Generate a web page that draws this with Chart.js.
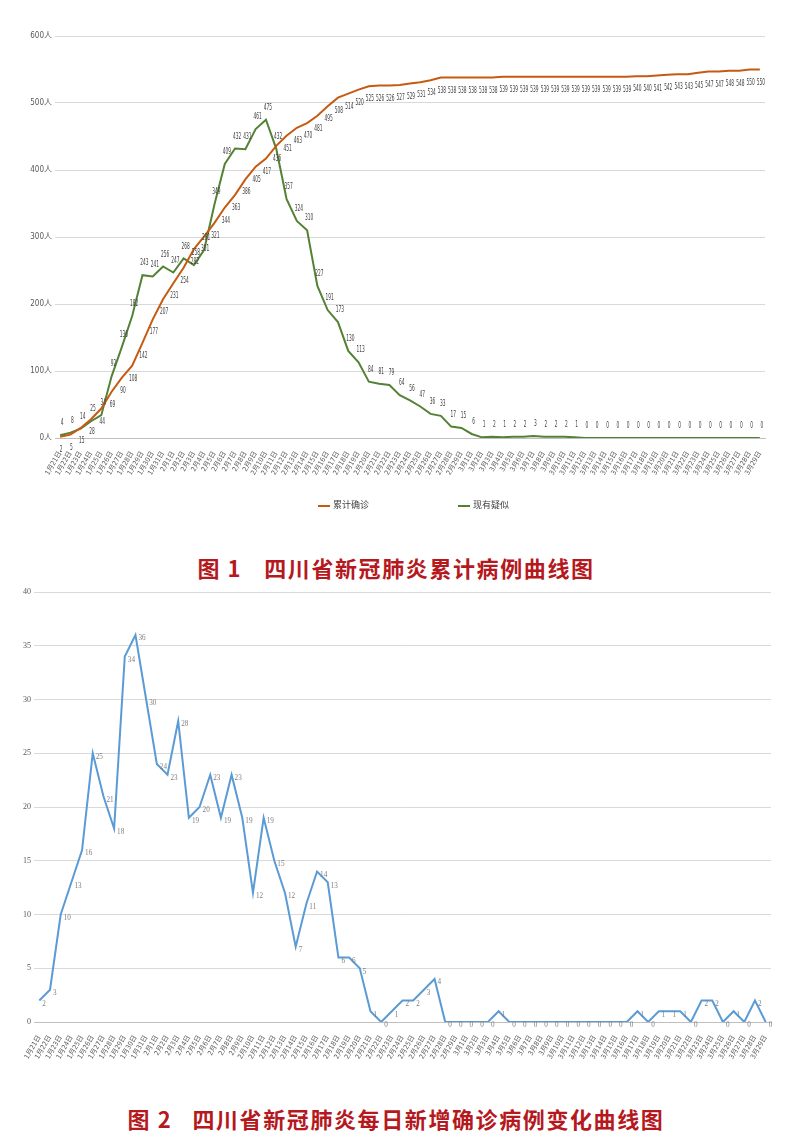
<!DOCTYPE html>
<html>
<head>
<meta charset="utf-8">
<script src="https://cdn.jsdelivr.net/npm/chart.js@4.4.1/dist/chart.umd.min.js"></script>
<style>
  body { margin: 0; background: #fff; }
  #page { position: relative; width: 800px; height: 1147px; overflow: hidden; }
  .box { position: absolute; left: 0; width: 800px; }
  .title { position: absolute; left: 0; width: 792px; text-align: center; line-height: 30px;
    font-family: "Noto Sans CJK SC", sans-serif; font-weight: 700; font-size: 22px;
    letter-spacing: 1.6px; color: #b5191e; }
  .legend { position: absolute; top: 498px; font: 9px "Noto Sans CJK SC", sans-serif; color: #404040; line-height: 14px; }
  .legend i { display: inline-block; width: 12px; height: 2px; vertical-align: middle; margin-right: 3px; }
</style>
</head>
<body>
<div id="page">
  <div class="box" style="top:0;height:500px"><canvas id="c1"></canvas></div>
  <div class="legend" id="lg1" style="left:318px"></div>
  <div class="legend" id="lg2" style="left:458px"></div>
  <div class="title" style="top:552px">图 1<span style="margin-left:22px">四川省新冠肺炎累计病例曲线图</span></div>
  <div class="box" style="top:575px;height:505px"><canvas id="c2"></canvas></div>
  <div class="title" style="top:1103px">图 2<span style="margin-left:20px">四川省新冠肺炎每日新增确诊病例变化曲线图</span></div>
</div>
<script>
const dates = [
  "1月21日","1月22日","1月23日","1月24日","1月25日","1月26日","1月27日","1月28日","1月29日","1月30日","1月31日",
  "2月1日","2月2日","2月3日","2月4日","2月5日","2月6日","2月7日","2月8日","2月9日","2月10日",
  "2月11日","2月12日","2月13日","2月14日","2月15日","2月16日","2月17日","2月18日","2月19日","2月20日",
  "2月21日","2月22日","2月23日","2月24日","2月25日","2月26日","2月27日","2月28日","2月29日",
  "3月1日","3月2日","3月3日","3月4日","3月5日","3月6日","3月7日","3月8日","3月9日","3月10日",
  "3月11日","3月12日","3月13日","3月14日","3月15日","3月16日","3月17日","3月18日","3月19日","3月20日",
  "3月21日","3月22日","3月23日","3月24日","3月25日","3月26日","3月27日","3月28日","3月29日"
];

const seriesNames = ["累计确诊", "现有疑似"];

// 累计确诊
const confirmed = [
  2, 5, 15, 28, 44, 69, 90, 108, 142, 177,
  207, 231, 254, 282, 301, 321, 344, 363, 386, 405,
  417, 436, 451, 463, 470, 481, 495, 508, 514, 520,
  525, 526, 526, 527, 529, 531, 534, 538, 538, 538,
  538, 538, 538, 539, 539, 539, 539, 539, 539, 539,
  539, 539, 539, 539, 539, 539, 540, 540, 541, 542,
  543, 543, 545, 547, 547, 548, 548, 550, 550
];

// 现有疑似
const suspected = [
  4, 8, 14, 25, 34, 92, 136, 182, 243, 241,
  256, 247, 268, 258, 281, 349, 409, 432, 431, 461,
  475, 432, 357, 324, 310, 227, 191, 173, 130, 113,
  84, 81, 79, 64, 56, 47, 36, 33, 17, 15,
  6, 1, 2, 1, 2, 2, 3, 2, 2, 2,
  1, 0, 0, 0, 0, 0, 0, 0, 0, 0,
  0, 0, 0, 0, 0, 0, 0, 0, 0
];

// 每日新增确诊
const dailyNew = [
  2, 3, 10, 13, 16, 25, 21, 18, 34, 36,
  30, 24, 23, 28, 19, 20, 23, 19, 23, 19,
  12, 19, 15, 12, 7, 11, 14, 13, 6, 6,
  5, 1, 0, 1, 2, 2, 3, 4, 0, 0,
  0, 0, 0, 1, 0, 0, 0, 0, 0, 0,
  0, 0, 0, 0, 0, 0, 1, 0, 1, 1,
  1, 0, 2, 2, 0, 1, 0, 2, 0
];

const ticks1 = [0, 100, 200, 300, 400, 500, 600];
const ticks2 = [0, 5, 10, 15, 20, 25, 30, 35, 40];

const orange = "#c55a11";
const green = "#548235";
const blue = "#5b9bd5";
const narrow = "'Liberation Sans Narrow', 'DejaVu Sans Condensed', 'Noto Sans CJK SC', sans-serif";

// draws the value next to every point, using the points the chart laid out
const valueLabels = {
  id: "valueLabels",
  afterDatasetsDraw(chart, args, opts) {
    const ctx = chart.ctx;
    chart.data.datasets.forEach((ds, i) => {
      const meta = chart.getDatasetMeta(i);
      const o = opts.offsets[i];
      meta.data.forEach((pt, j) => {
        ctx.save();
        ctx.font = opts.font;
        ctx.fillStyle = opts.color;
        ctx.textAlign = o.align;
        ctx.textBaseline = "middle";
        ctx.translate(pt.x + o.dx, pt.y + o.dy);
        ctx.scale(opts.squeeze, 1);
        ctx.fillText(String(ds.data[j]), 0, 0);
        ctx.restore();
      });
    });
  }
};

document.getElementById("lg1").innerHTML = '<i style="background:' + orange + '"></i>' + seriesNames[0];
document.getElementById("lg2").innerHTML = '<i style="background:' + green + '"></i>' + seriesNames[1];

new Chart(document.getElementById("c1"), {
  type: "line",
  data: {
    labels: dates,
    datasets: [
      { label: seriesNames[0], data: confirmed, borderColor: orange, borderWidth: 2, pointRadius: 0, tension: 0 },
      { label: seriesNames[1], data: suspected, borderColor: green, borderWidth: 2, pointRadius: 0, tension: 0 }
    ]
  },
  options: {
    responsive: true,
    maintainAspectRatio: false,
    animation: false,
    layout: { padding: { top: 36, right: 35, left: 0, bottom: 0 } },
    plugins: {
      legend: { display: false },
      tooltip: { enabled: false },
      valueLabels: {
        font: "8px " + narrow,
        color: "#404040",
        squeeze: 0.6,
        offsets: [ { dx: 1, dy: 13, align: "center" }, { dx: 2, dy: -12, align: "center" } ]
      }
    },
    scales: {
      x: {
        offset: true,
        grid: { display: false },
        border: { color: "#bfbfbf" },
        ticks: { autoSkip: false, minRotation: 60, maxRotation: 60, padding: 4, color: "#595959", font: { size: 7, family: narrow } },
        afterFit(scale) { scale.height = 62; }
      },
      y: {
        min: 0,
        max: 600,
        afterBuildTicks(scale) { scale.ticks = ticks1.map(v => ({ value: v })); },
        grid: { color: "#d9d9d9", drawTicks: false },
        border: { display: false },
        ticks: { padding: 3, color: "#595959", font: { size: 8, family: narrow }, callback: v => v + "人" },
        afterFit(scale) { scale.width = 55; }
      }
    }
  },
  plugins: [valueLabels]
});

new Chart(document.getElementById("c2"), {
  type: "line",
  data: {
    labels: dates,
    datasets: [
      { label: "每日新增确诊", data: dailyNew, borderColor: blue, borderWidth: 2, pointRadius: 0, tension: 0 }
    ]
  },
  options: {
    responsive: true,
    maintainAspectRatio: false,
    animation: false,
    layout: { padding: { top: 17, right: 29, left: 0, bottom: 0 } },
    plugins: {
      legend: { display: false },
      tooltip: { enabled: false },
      valueLabels: {
        font: "9px 'Liberation Serif', serif",
        color: "#7f7f7f",
        squeeze: 0.8,
        offsets: [ { dx: 3, dy: 3, align: "left" } ]
      }
    },
    scales: {
      x: {
        offset: true,
        grid: { display: false },
        border: { color: "#bfbfbf" },
        ticks: { autoSkip: false, minRotation: 60, maxRotation: 60, padding: 4, color: "#595959", font: { size: 7, family: narrow } },
        afterFit(scale) { scale.height = 58; }
      },
      y: {
        min: 0,
        max: 40,
        afterBuildTicks(scale) { scale.ticks = ticks2.map(v => ({ value: v })); },
        grid: { color: "#d9d9d9", drawTicks: false },
        border: { display: false },
        ticks: { padding: 3, color: "#595959", font: { size: 8, family: "'Liberation Serif', serif" } },
        afterFit(scale) { scale.width = 34; }
      }
    }
  },
  plugins: [valueLabels]
});
</script>
</body>
</html>
